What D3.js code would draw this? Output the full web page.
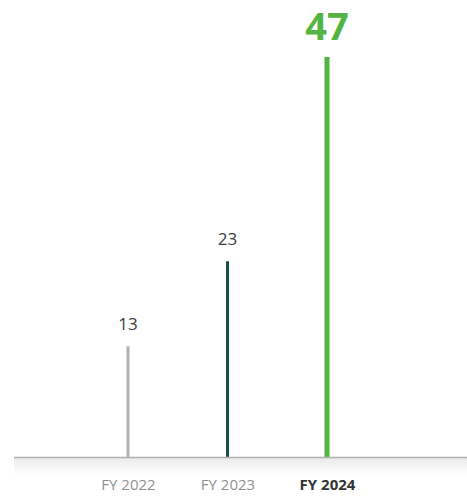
<!DOCTYPE html>
<html>
<head>
<meta charset="utf-8">
<script src="https://cdn.jsdelivr.net/npm/d3@7"></script>
<style>
  body { margin: 0; background: #fff; }
  svg { display: block; font-family: "Open Sans", sans-serif; }
</style>
</head>
<body>
<script>
'use strict';

// chart data
const years = ["FY 2022", "FY 2023", "FY 2024"];
const values = [13, 23, 47];
const barColors = ["#b3b3b3", "#17523a", "#53b443"];

const width = 467, height = 496;
const baseY = 457;

const svg = d3.select('body').append('svg')
  .attr('width', width)
  .attr('height', height);

// shadow under the baseline
const defs = svg.append('defs');
const grad = defs.append('linearGradient')
  .attr('id', 'shade')
  .attr('x1', 0).attr('y1', 0).attr('x2', 0).attr('y2', 1);
grad.append('stop').attr('offset', '0%').attr('stop-color', '#e9e9e9');
grad.append('stop').attr('offset', '100%').attr('stop-color', '#ffffff');

svg.append('rect')
  .attr('x', 14).attr('y', baseY)
  .attr('width', width - 14).attr('height', 18)
  .attr('fill', 'url(#shade)');

// scales
const x = d3.scalePoint()
  .domain(years)
  .range([128, 327]);

const y = d3.scaleLinear()
  .domain([0, 47])
  .range([baseY, 57]);

// bars as thin lines
svg.selectAll('.bar')
  .data(years)
  .enter()
  .append('rect')
    .attr('class', 'bar')
    .attr('x', (d, i) => x(d) - (i === 2 ? 2.5 : 1.5))
    .attr('width', (d, i) => i === 2 ? 5 : 3)
    .attr('y', (d, i) => y(values[i]))
    .attr('height', (d, i) => baseY - y(values[i]))
    .attr('fill', (d, i) => barColors[i]);

// baseline
svg.append('line')
  .attr('x1', 14).attr('x2', width)
  .attr('y1', baseY + 0.5).attr('y2', baseY + 0.5)
  .attr('stroke', '#b0b0b0')
  .attr('stroke-width', 1.5);

// value labels
svg.selectAll('.val')
  .data(years)
  .enter()
  .append('text')
    .attr('class', 'val')
    .attr('x', (d, i) => x(d))
    .attr('y', (d, i) => y(values[i]) - (i === 2 ? 17 : 16))
    .attr('text-anchor', 'middle')
    .attr('fill', (d, i) => i === 2 ? barColors[2] : '#3c3c3c')
    .style('font-size', (d, i) => i === 2 ? '38px' : '17px')
    .style('font-weight', (d, i) => i === 2 ? 700 : 400)
    .text((d, i) => values[i]);

// x axis labels
const xAxis = d3.axisBottom(x).tickSize(0).tickPadding(0);
const axisG = svg.append('g')
  .attr('transform', 'translate(0, 479)')
  .call(xAxis);
axisG.select('.domain').remove();
axisG.selectAll('text')
  .style('font-family', '"Open Sans", sans-serif')
  .style('font-size', '15px')
  .attr('fill', (d, i) => i === 2 ? '#333333' : '#909090')
  .style('font-weight', (d, i) => i === 2 ? 700 : 400);
</script>
</body>
</html>
